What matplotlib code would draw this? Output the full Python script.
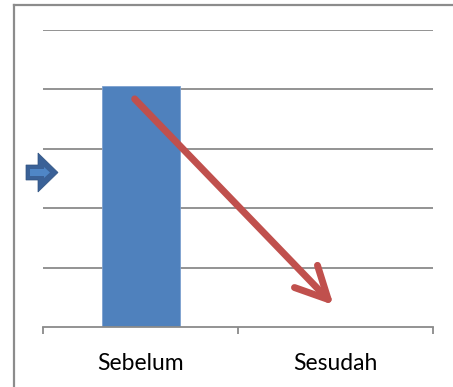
#Bar chart: before/after comparison with trend arrow
import matplotlib.pyplot as plt
import matplotlib.patches as mpatches
from matplotlib.lines import Line2D

#data
categories = ['Sebelum', 'Sesudah']
values = [4.05, 0]
yticks = [0, 1, 2, 3, 4, 5]

#trend arrow, from near the top of the first bar down to the second category
arrowStart = (-0.03, 3.84)
arrowEnd = (0.99, 0.37)

W, H = 453, 387
fig = plt.figure(figsize=(W/100, H/100), dpi=100)
ax = fig.add_axes([43/W, 60/H, 390/W, 297/H])

x = list(range(len(categories)))
ax.bar(x, values, width=0.4, color='#4f81bd', edgecolor='#7da0cf', linewidth=0.6, zorder=2)

ax.set_xlim(-0.5, len(categories) - 0.5)
ax.set_ylim(yticks[0], yticks[-1])
for t in yticks[1:]:
    ax.axhline(t, color='#8a8a8a', linewidth=1.3, zorder=1)

for s in ['top', 'right', 'left']:
    ax.spines[s].set_visible(False)
ax.spines['bottom'].set_color('#8a8a8a')
ax.spines['bottom'].set_linewidth(1.3)
ax.spines['bottom'].set_zorder(3)
ax.set_yticks([])
ax.set_xticks([-0.5 + i for i in range(len(categories) + 1)], minor=False)
ax.set_xticklabels([])
ax.tick_params(axis='x', direction='out', length=5, width=1.3, color='#8a8a8a')
ax.set_xticks(x, minor=True)
ax.set_xticklabels(categories, minor=True, fontsize=16.5, family=['Lato', 'DejaVu Sans'])
ax.tick_params(axis='x', which='minor', length=0, pad=19)
for lbl in ax.get_xticklabels(minor=True):
    lbl.set_fontstretch('expanded')

#red trend arrow
arr = mpatches.FancyArrowPatch(arrowStart, arrowEnd, arrowstyle='->,head_length=23,head_width=11.5',
                               mutation_scale=1, color='#c0504d', linewidth=5,
                               shrinkA=0, shrinkB=0, capstyle='round', joinstyle='round', zorder=4)
ax.add_patch(arr)

#small blue pointer arrow on the left
def px(pts):
    return [(a/W, 1 - b/H) for a, b in pts]

outer = px([(26, 165), (38, 165), (38, 153), (58, 172.5), (38, 192), (38, 180), (26, 180)])
inner = px([(30, 169), (44, 169), (44, 167), (50, 172.5), (44, 178), (44, 176), (30, 176)])
fig.add_artist(mpatches.Polygon(outer, closed=True, facecolor='#3a6197', edgecolor='#2f5280', linewidth=0.5))
fig.add_artist(mpatches.Polygon(inner, closed=True, facecolor='#4f86c6', edgecolor='none'))

#frame around the chart area (left and top edges)
fig.add_artist(Line2D([14.5/W, 14.5/W], [0, 1 - 4.5/H], color='#8c8c8c', linewidth=1.6))
fig.add_artist(Line2D([14.5/W, 1], [1 - 4.5/H, 1 - 4.5/H], color='#8c8c8c', linewidth=1.6))

fig.savefig('out.png', dpi=100)
